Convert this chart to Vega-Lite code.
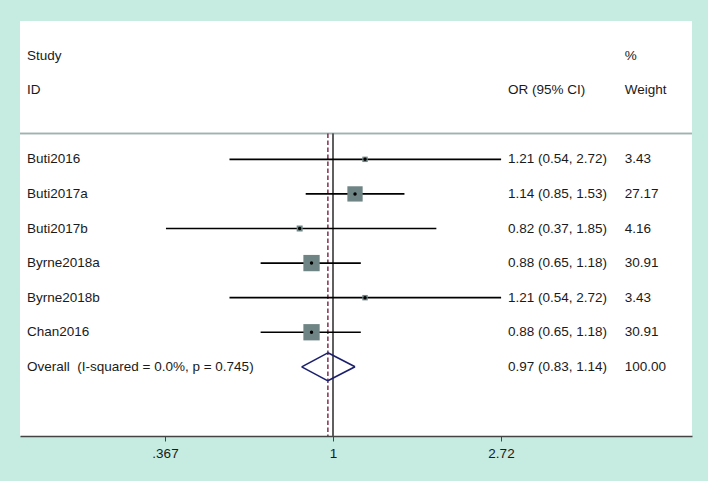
{
  "$schema": "https://vega.github.io/schema/vega-lite/v6.json",
  "width": 672,
  "height": 415,
  "autosize": {"type": "none"},
  "padding": {"left": 20, "top": 21, "right": 16, "bottom": 45},
  "background": "#c6ebe1",
  "config": {
    "view": {"fill": "white", "stroke": null},
    "font": "Liberation Sans",
    "text": {"font": "Liberation Sans", "fontSize": 13.5, "color": "#1a1a1a", "baseline": "middle", "align": "left"}
  },
  "datasets": {
    "studies": [
      {"study": "Buti2016", "or": 1.21, "lo": 0.54, "hi": 2.72, "weight": 3.43, "row": 1},
      {"study": "Buti2017a", "or": 1.14, "lo": 0.85, "hi": 1.53, "weight": 27.17, "row": 2},
      {"study": "Buti2017b", "or": 0.82, "lo": 0.37, "hi": 1.85, "weight": 4.16, "row": 3},
      {"study": "Byrne2018a", "or": 0.88, "lo": 0.65, "hi": 1.18, "weight": 30.91, "row": 4},
      {"study": "Byrne2018b", "or": 1.21, "lo": 0.54, "hi": 2.72, "weight": 3.43, "row": 5},
      {"study": "Chan2016", "or": 0.88, "lo": 0.65, "hi": 1.18, "weight": 30.91, "row": 6}
    ],
    "overall": [
      {"study": "Overall\u00a0 (I-squared = 0.0%, p = 0.745)", "or": 0.97, "lo": 0.83, "hi": 1.14, "weight": 100.0, "row": 7}
    ],
    "headers": [
      {"left": "Study", "mid": "", "right": "%", "row": -2},
      {"left": "ID", "mid": "OR (95% CI)", "right": "Weight", "row": -1}
    ]
  },
  "encoding": {
    "x": {"type": "quantitative", "scale": {"type": "log", "domain": [0.15519, 8.473], "nice": false}},
    "y": {"type": "quantitative", "scale": {"domain": [-3, 9], "reverse": true, "nice": false, "zero": false}}
  },
  "layer": [
    {
      "data": {"name": "headers"},
      "mark": {"type": "rule", "color": "#9fb1b1", "strokeWidth": 1.5},
      "encoding": {"y": {"datum": 0.25, "type": "quantitative", "axis": null}}
    },
    {
      "data": {"name": "headers"},
      "mark": {"type": "rule", "color": "#555555", "strokeWidth": 1.5},
      "encoding": {
        "x": {"datum": 1, "type": "quantitative",
          "axis": {"values": [0.367879, 1, 2.718282], "labelExpr": "datum.value < 0.5 ? '.367' : datum.value < 2 ? '1' : '2.72'",
            "grid": false, "domainColor": "#444444", "domainWidth": 1.5, "tickColor": "#444444", "tickSize": 5, "tickWidth": 1,
            "labelFont": "Liberation Sans", "labelFontSize": 13.5, "labelColor": "#1a1a1a", "labelPadding": 5, "title": null}},
        "y": {"datum": 0.25, "type": "quantitative"},
        "y2": {"datum": 9}
      }
    },
    {
      "data": {"name": "overall"},
      "mark": {"type": "rule", "color": "#7a1f45", "strokeWidth": 1.4, "strokeDash": [4.5, 2.5]},
      "encoding": {
        "x": {"field": "or"},
        "y": {"datum": 0.25, "type": "quantitative"},
        "y2": {"datum": 9}
      }
    },
    {
      "data": {"name": "studies"},
      "mark": {"type": "rule", "color": "#000000", "strokeWidth": 1.6},
      "encoding": {
        "x": {"field": "lo"},
        "x2": {"field": "hi"},
        "y": {"field": "row"}
      }
    },
    {
      "data": {"name": "studies"},
      "mark": {"type": "point", "shape": "square", "filled": true, "color": "#6f8585", "opacity": 1},
      "encoding": {
        "x": {"field": "or"},
        "y": {"field": "row"},
        "size": {"field": "weight", "type": "quantitative", "scale": {"type": "linear", "domain": [0, 30.91], "range": [0, 266], "zero": true}, "legend": null}
      }
    },
    {
      "data": {"name": "studies"},
      "mark": {"type": "point", "shape": "circle", "filled": true, "color": "#000000", "size": 12, "opacity": 1},
      "encoding": {
        "x": {"field": "or"},
        "y": {"field": "row"}
      }
    },
    {
      "data": {"name": "overall"},
      "mark": {"type": "rule", "color": "#1b1f6b", "strokeWidth": 1.6, "y2Offset": -14},
      "encoding": {"x": {"field": "lo"}, "y": {"field": "row"}, "x2": {"field": "or"}, "y2": {"field": "row"}}
    },
    {
      "data": {"name": "overall"},
      "mark": {"type": "rule", "color": "#1b1f6b", "strokeWidth": 1.6, "yOffset": -14},
      "encoding": {"x": {"field": "or"}, "y": {"field": "row"}, "x2": {"field": "hi"}, "y2": {"field": "row"}}
    },
    {
      "data": {"name": "overall"},
      "mark": {"type": "rule", "color": "#1b1f6b", "strokeWidth": 1.6, "y2Offset": 14},
      "encoding": {"x": {"field": "hi"}, "y": {"field": "row"}, "x2": {"field": "or"}, "y2": {"field": "row"}}
    },
    {
      "data": {"name": "overall"},
      "mark": {"type": "rule", "color": "#1b1f6b", "strokeWidth": 1.6, "yOffset": 14},
      "encoding": {"x": {"field": "or"}, "y": {"field": "row"}, "x2": {"field": "lo"}, "y2": {"field": "row"}}
    },
    {
      "data": {"name": "studies"},
      "transform": [
        {"calculate": "format(datum.or, '.2f') + ' (' + format(datum.lo, '.2f') + ', ' + format(datum.hi, '.2f') + ')'", "as": "ci"},
        {"fold": ["study", "ci", "weight"], "as": ["col", "val"]}
      ],
      "layer": [
        {"transform": [{"filter": "datum.col == 'study'"}], "mark": {"type": "text"}, "encoding": {"x": {"datum": 0.1618, "type": "quantitative"}, "y": {"field": "row"}, "text": {"field": "val"}}},
        {"transform": [{"filter": "datum.col == 'ci'"}], "mark": {"type": "text"}, "encoding": {"x": {"datum": 2.834, "type": "quantitative"}, "y": {"field": "row"}, "text": {"field": "val"}}},
        {"transform": [{"filter": "datum.col == 'weight'"}], "mark": {"type": "text"}, "encoding": {"x": {"datum": 5.68, "type": "quantitative"}, "y": {"field": "row"}, "text": {"field": "val", "type": "quantitative", "format": ".2f"}}}
      ]
    },
    {
      "data": {"name": "overall"},
      "transform": [
        {"calculate": "format(datum.or, '.2f') + ' (' + format(datum.lo, '.2f') + ', ' + format(datum.hi, '.2f') + ')'", "as": "ci"}
      ],
      "layer": [
        {"mark": {"type": "text"}, "encoding": {"x": {"datum": 0.1618, "type": "quantitative"}, "y": {"field": "row"}, "text": {"field": "study"}}},
        {"mark": {"type": "text"}, "encoding": {"x": {"datum": 2.834, "type": "quantitative"}, "y": {"field": "row"}, "text": {"field": "ci"}}},
        {"mark": {"type": "text"}, "encoding": {"x": {"datum": 5.68, "type": "quantitative"}, "y": {"field": "row"}, "text": {"field": "weight", "type": "quantitative", "format": ".2f"}}}
      ]
    },
    {
      "data": {"name": "headers"},
      "layer": [
        {"mark": {"type": "text"}, "encoding": {"x": {"datum": 0.1618, "type": "quantitative"}, "y": {"field": "row"}, "text": {"field": "left"}}},
        {"mark": {"type": "text"}, "encoding": {"x": {"datum": 2.834, "type": "quantitative"}, "y": {"field": "row"}, "text": {"field": "mid"}}},
        {"mark": {"type": "text"}, "encoding": {"x": {"datum": 5.68, "type": "quantitative"}, "y": {"field": "row"}, "text": {"field": "right"}}}
      ]
    }
  ]
}
